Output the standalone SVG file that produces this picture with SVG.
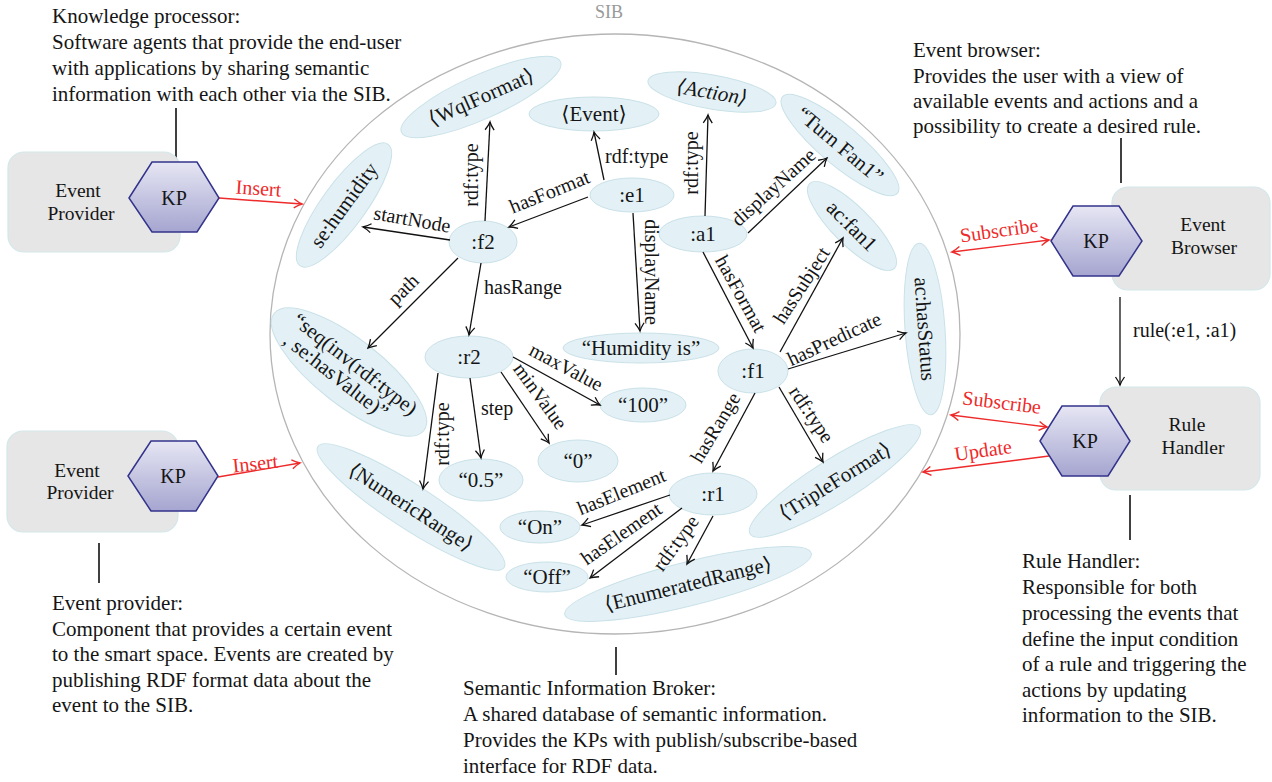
<svg xmlns="http://www.w3.org/2000/svg" width="1272" height="782" viewBox="0 0 1272 782">
<style>
text{font-family:"Liberation Serif","DejaVu Serif",serif;fill:#151515}
.nd ellipse{fill:#e3f1f6;stroke:#c9e1e8;stroke-width:1}
.nd text{font-size:21px;text-anchor:middle}
.lb{font-size:20px}
.lbm{font-size:20px;text-anchor:middle}
.ed{stroke:#111;stroke-width:1.3;fill:none;marker-end:url(#ah)}
.rd{stroke:#ee2a2a;stroke-width:1.4;fill:none;marker-end:url(#ahr)}
.rdd{marker-start:url(#ahr)}
.rt{fill:#ee2a2a;font-size:20px;text-anchor:middle}
.desc{font-size:21px}
.box{fill:#e6e6e6;stroke:#d3e7ea;stroke-width:1.2}
.hex{fill:url(#hg);stroke:#33338c;stroke-width:1.5}
.kp{font-size:20px;text-anchor:middle}
.bt{font-size:19.5px;text-anchor:middle}
.vl{stroke:#000;stroke-width:1.5}
</style>
<defs>
<linearGradient id="hg" x1="0" y1="0" x2="0" y2="1">
<stop offset="0" stop-color="#e6e6f4"/>
<stop offset="1" stop-color="#a5a5d0"/>
</linearGradient>
<marker id="ah" viewBox="-10 -6 12 12" refX="0" refY="0" markerWidth="12" markerHeight="12" markerUnits="userSpaceOnUse" orient="auto">
<path d="M-8,-4.5 Q-3,-1 0,0 Q-3,1 -8,4.5" fill="none" stroke="#111" stroke-width="1.3"/>
</marker>
<marker id="ahr" viewBox="-10 -6 12 12" refX="0" refY="0" markerWidth="12" markerHeight="12" markerUnits="userSpaceOnUse" orient="auto-start-reverse">
<path d="M-8,-4.5 Q-3,-1 0,0 Q-3,1 -8,4.5" fill="none" stroke="#ee2a2a" stroke-width="1.4"/>
</marker>
</defs>
<rect width="1272" height="782" fill="#fff"/>

<g id="sib">
<ellipse cx="615" cy="334" rx="345" ry="300" fill="none" stroke="#b5b5b5" stroke-width="1.3"/>
<text x="609" y="18" font-size="18" text-anchor="middle" style="fill:#999">SIB</text>
</g>

<g id="nodes">
<g id="n_wql" class="nd" transform="translate(481,97) rotate(-24)"><ellipse rx="87" ry="22"/><text y="7">⟨WqlFormat⟩</text></g>
<g id="n_event" class="nd" transform="translate(594,114)"><ellipse rx="65" ry="17"/><text y="7">⟨Event⟩</text></g>
<g id="n_action" class="nd" transform="translate(712,92) rotate(10)"><ellipse rx="65" ry="17"/><text y="7" font-style="italic">⟨Action⟩</text></g>
<g id="n_turnfan" class="nd" transform="translate(840,145) rotate(40)"><ellipse rx="75" ry="20"/><text y="7">“Turn Fan1”</text></g>
<g id="n_humidity" class="nd" transform="translate(344,205) rotate(-54)"><ellipse rx="75" ry="22"/><text y="7">se:humidity</text></g>
<g id="n_e1" class="nd" transform="translate(632,195)"><ellipse rx="42" ry="17"/><text y="7">:e1</text></g>
<g id="n_f2" class="nd" transform="translate(483,242)"><ellipse rx="34" ry="21"/><text y="7">:f2</text></g>
<g id="n_a1" class="nd" transform="translate(703,234)"><ellipse rx="44" ry="18"/><text y="7">:a1</text></g>
<g id="n_fan1" class="nd" transform="translate(852,226) rotate(45)"><ellipse rx="60" ry="19"/><text y="7">ac:fan1</text></g>
<g id="n_hasstatus" class="nd" transform="translate(925,329) rotate(86)"><ellipse rx="86" ry="20"/><text y="7">ac:hasStatus</text></g>
<g id="n_humis" class="nd" transform="translate(641,348)"><ellipse rx="78" ry="15"/><text y="7">“Humidity is”</text></g>
<g id="n_seq" class="nd" transform="translate(349,372) rotate(38)"><ellipse rx="95" ry="33"/><text y="-3">“seq(inv(rdf:type)</text><text y="18" x="-8">, se:hasValue)”</text></g>
<g id="n_r2" class="nd" transform="translate(469,357)"><ellipse rx="44" ry="21"/><text y="7">:r2</text></g>
<g id="n_f1" class="nd" transform="translate(753,371)"><ellipse rx="35" ry="22"/><text y="7">:f1</text></g>
<g id="n_100" class="nd" transform="translate(643,405)"><ellipse rx="43" ry="17"/><text y="7">“100”</text></g>
<g id="n_0" class="nd" transform="translate(578,461)"><ellipse rx="40" ry="21"/><text y="7">“0”</text></g>
<g id="n_05" class="nd" transform="translate(481,480)"><ellipse rx="42" ry="21"/><text y="7">“0.5”</text></g>
<g id="n_numeric" class="nd" transform="translate(411,507) rotate(33)"><ellipse rx="111" ry="22"/><text y="7">⟨NumericRange⟩</text></g>
<g id="n_on" class="nd" transform="translate(540,527)"><ellipse rx="40" ry="16"/><text y="7">“On”</text></g>
<g id="n_off" class="nd" transform="translate(547,577)"><ellipse rx="41" ry="15"/><text y="7">“Off”</text></g>
<g id="n_r1" class="nd" transform="translate(713,494)"><ellipse rx="44" ry="21"/><text y="7">:r1</text></g>
<g id="n_enum" class="nd" transform="translate(688,584) rotate(-14)"><ellipse rx="127" ry="22"/><text y="7">⟨EnumeratedRange⟩</text></g>
<g id="n_triple" class="nd" transform="translate(835,481) rotate(-32)"><ellipse rx="100" ry="22"/><text y="7">⟨TripleFormat⟩</text></g>
</g>

<g id="connectors">
<line class="ed" x1="604" y1="180" x2="594" y2="132"/>
<text class="lb" x="605" y="163">rdf:type</text>
<line class="ed" x1="588" y1="197" x2="509" y2="227"/>
<text class="lbm" transform="translate(552,198) rotate(-22)">hasFormat</text>
<line class="ed" x1="485" y1="221" x2="490" y2="122"/>
<text class="lbm" transform="translate(478,175) rotate(-90)">rdf:type</text>
<line class="ed" x1="450" y1="240" x2="363" y2="227"/>
<text class="lbm" transform="translate(411,226) rotate(10)">startNode</text>
<line class="ed" x1="458" y1="258" x2="368" y2="348"/>
<text class="lbm" transform="translate(408,294) rotate(-45)">path</text>
<line class="ed" x1="481" y1="263" x2="469" y2="335"/>
<text class="lb" x="484" y="294">hasRange</text>
<line class="ed" x1="633" y1="213" x2="640" y2="331"/>
<text class="lbm" transform="translate(645,272) rotate(90)">displayName</text>
<line class="ed" x1="705" y1="216" x2="708" y2="115"/>
<text class="lbm" transform="translate(698,163) rotate(-90)">rdf:type</text>
<line class="ed" x1="748" y1="233" x2="827" y2="158"/>
<text class="lbm" transform="translate(778,192) rotate(-42)">displayName</text>
<line class="ed" x1="703" y1="252" x2="753" y2="348"/>
<text class="lbm" transform="translate(735,297) rotate(61)">hasFormat</text>
<line class="ed" x1="780" y1="352" x2="843" y2="238"/>
<text class="lbm" transform="translate(807,289) rotate(-57)">hasSubject</text>
<line class="ed" x1="788" y1="369" x2="906" y2="333"/>
<text class="lbm" transform="translate(837,345) rotate(-25)">hasPredicate</text>
<line class="ed" x1="779" y1="387" x2="823" y2="462"/>
<text class="lbm" transform="translate(806,418) rotate(56)">rdf:type</text>
<line class="ed" x1="755" y1="393" x2="713" y2="471"/>
<text class="lbm" transform="translate(721,431) rotate(-59)">hasRange</text>
<line class="ed" x1="438" y1="373" x2="423" y2="489"/>
<text class="lbm" transform="translate(449,434) rotate(-90)">rdf:type</text>
<line class="ed" x1="470" y1="378" x2="481" y2="458"/>
<text class="lb" x="481" y="415">step</text>
<line class="ed" x1="501" y1="372" x2="549" y2="443"/>
<text class="lbm" transform="translate(535,400) rotate(54)">minValue</text>
<line class="ed" x1="513" y1="357" x2="600" y2="405"/>
<text class="lbm" transform="translate(563,373) rotate(28)">maxValue</text>
<line class="ed" x1="670" y1="495" x2="582" y2="525"/>
<text class="lbm" transform="translate(624,498) rotate(-22)">hasElement</text>
<line class="ed" x1="682" y1="508" x2="590" y2="578"/>
<text class="lbm" transform="translate(625,539) rotate(-35)">hasElement</text>
<line class="ed" x1="713" y1="516" x2="687" y2="564"/>
<text class="lbm" transform="translate(681,547) rotate(-54)">rdf:type</text>

<line class="rd" x1="219" y1="198" x2="302" y2="204"/>
<text class="rt" transform="translate(258,195) rotate(4)">Insert</text>
<line class="rd" x1="218" y1="477" x2="300" y2="463"/>
<text class="rt" transform="translate(256,470) rotate(-6)">Insert</text>
<line class="rd rdd" x1="952" y1="252" x2="1049" y2="240"/>
<text class="rt" transform="translate(1000,237) rotate(-8)">Subscribe</text>
<line class="rd rdd" x1="951" y1="415" x2="1047" y2="427"/>
<text class="rt" transform="translate(1001,409) rotate(7)">Subscribe</text>
<line class="rd" x1="1049" y1="456" x2="923" y2="472"/>
<text class="rt" transform="translate(984,457) rotate(-8)">Update</text>

<line class="ed" x1="1120" y1="297" x2="1120" y2="385"/>
<text class="lb" x="1133" y="337">rule(:e1, :a1)</text>

<line class="vl" x1="176" y1="108" x2="176" y2="160"/>
<line class="vl" x1="99" y1="543" x2="99" y2="583"/>
<line class="vl" x1="616" y1="647" x2="616" y2="675" stroke-width="1.2"/>
<line class="vl" x1="1121" y1="138" x2="1121" y2="183"/>
<line class="vl" x1="1130" y1="495" x2="1130" y2="540"/>
</g>

<g id="kp_provider1">
<rect class="box" x="8" y="152" width="172" height="100" rx="16"/>
<text class="bt" x="78" y="197">Event</text>
<text class="bt" x="81" y="219.5">Provider</text>
<polygon class="hex" points="129,198 152,162 197,162 219,198 197,232 152,232"/>
<text class="kp" x="174" y="205">KP</text>
</g>
<g id="kp_provider2">
<rect class="box" x="7" y="431" width="171" height="101" rx="16"/>
<text class="bt" x="77" y="476.5">Event</text>
<text class="bt" x="80" y="499">Provider</text>
<polygon class="hex" points="128,476 151,441 196,441 218,476 196,511 151,511"/>
<text class="kp" x="173" y="483">KP</text>
</g>
<g id="kp_browser">
<rect class="box" x="1112" y="187" width="158" height="103" rx="16"/>
<text class="bt" x="1203" y="231">Event</text>
<text class="bt" x="1204" y="253.5">Browser</text>
<polygon class="hex" points="1051,241 1073,206 1119,206 1142,241 1119,276 1073,276"/>
<text class="kp" x="1096" y="248">KP</text>
</g>
<g id="kp_rulehandler">
<rect class="box" x="1100" y="387" width="160" height="103" rx="16"/>
<text class="bt" x="1187" y="431">Rule</text>
<text class="bt" x="1193" y="453.5">Handler</text>
<polygon class="hex" points="1040,441 1062,406 1108,406 1130,441 1108,476 1062,476"/>
<text class="kp" x="1085" y="448">KP</text>
</g>

<g id="desc_kp">
<text class="desc" x="52" y="23">Knowledge processor:</text>
<text class="desc" x="52" y="49">Software agents that provide the end-user</text>
<text class="desc" x="52" y="75">with applications by sharing semantic</text>
<text class="desc" x="52" y="101">information with each other via the SIB.</text>
</g>
<g id="desc_browser">
<text class="desc" x="913" y="57">Event browser:</text>
<text class="desc" x="913" y="83">Provides the user with a view of</text>
<text class="desc" x="913" y="108">available events and actions and a</text>
<text class="desc" x="913" y="133">possibility to create a desired rule.</text>
</g>
<g id="desc_provider">
<text class="desc" x="52" y="610">Event provider:</text>
<text class="desc" x="52" y="636">Component that provides a certain event</text>
<text class="desc" x="52" y="661">to the smart space. Events are created by</text>
<text class="desc" x="52" y="687">publishing RDF format data about the</text>
<text class="desc" x="52" y="712">event to the SIB.</text>
</g>
<g id="desc_sib">
<text class="desc" x="463" y="695">Semantic Information Broker:</text>
<text class="desc" x="463" y="721">A shared database of semantic information.</text>
<text class="desc" x="463" y="747">Provides the KPs with publish/subscribe-based</text>
<text class="desc" x="463" y="773">interface for RDF data.</text>
</g>
<g id="desc_rulehandler">
<text class="desc" x="1022" y="568">Rule Handler:</text>
<text class="desc" x="1022" y="594">Responsible for both</text>
<text class="desc" x="1022" y="620">processing the events that</text>
<text class="desc" x="1022" y="646">define the input condition</text>
<text class="desc" x="1022" y="671">of a rule and triggering the</text>
<text class="desc" x="1022" y="697">actions by updating</text>
<text class="desc" x="1022" y="722">information to the SIB.</text>
</g>
</svg>
